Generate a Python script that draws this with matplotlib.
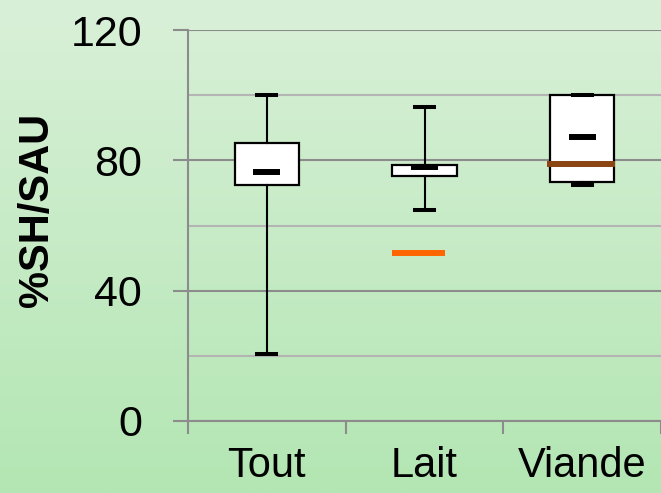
import numpy as np
import matplotlib
matplotlib.use("Agg")
import matplotlib.pyplot as plt
from matplotlib.colors import LinearSegmentedColormap

plt.rcParams['font.family'] = ['Liberation Sans', 'DejaVu Sans']

categories = ['Tout', 'Lait', 'Viande']
whis_lo = [20.6, 64.8, 72.4]
q1 = [72.4, 75.2, 73.4]
q3 = [85.3, 78.6, 100.0]
whis_hi = [100.0, 96.4, 100.0]
means = [76.4, 78.0, 87.2]
lait_orange = 51.6
viande_brown = 78.9

fig = plt.figure(figsize=(6.61, 4.93), dpi=100)

# gradient background
bg = fig.add_axes([0, 0, 1, 1], zorder=-10)
cmap = LinearSegmentedColormap.from_list('g', ['#d9f0d8', '#b3e6b3'])
bg.imshow(np.linspace(0, 1, 256).reshape(-1, 1), aspect='auto', cmap=cmap,
          extent=[0, 1, 0, 1])
bg.set_axis_off()

ax = fig.add_axes([188 / 661, 1 - 421 / 493, 1 - 188 / 661, (421 - 30) / 493])
ax.patch.set_alpha(0)

pos = np.arange(1, len(categories) + 1)
stats = []
for i in range(len(categories)):
    stats.append(dict(whislo=whis_lo[i], q1=q1[i], med=means[i], q3=q3[i],
                      whishi=whis_hi[i], fliers=[]))

ax.bxp(stats, positions=pos, widths=0.406, capwidths=0.12, showfliers=False,
       patch_artist=True,
       boxprops=dict(facecolor='white', edgecolor='black', linewidth=1.6),
       whiskerprops=dict(color='black', linewidth=1.5),
       capprops=dict(color='black', linewidth=2.9),
       medianprops=dict(linewidth=0), zorder=3)

# mean dashes
ax.hlines(means, pos - 0.085, pos + 0.085, colors='black', linewidth=4.3, zorder=5)
# extra markers
ax.hlines(lait_orange, pos[1] - 0.203, pos[1] + 0.133, colors='#ff6600',
          linewidth=4.3, zorder=5)
ax.hlines(viande_brown, pos[2] - 0.22, pos[2] + 0.21, colors='#8b4513',
          linewidth=4.3, zorder=5)

ax.set_xlim(0.5, 3.5)
ax.set_ylim(0, 120)
ax.set_yticks([0, 40, 80, 120])
ax.set_yticks([20, 60, 100], minor=True)
ax.grid(axis='y', which='major', color='#8c8c8c', linewidth=1.5, zorder=0)
ax.grid(axis='y', which='minor', color='#b4b4b4', linewidth=1.5, zorder=0)
ax.set_axisbelow(True)

ax.set_xticks([0.5, 1.5, 2.5, 3.5])
ax.set_xticklabels([])
ax.set_xticks(pos, minor=True)
ax.set_xticklabels(categories, minor=True, fontsize=30)
ax.tick_params(axis='x', which='major', length=9, width=1.5, color='#8c8c8c')
ax.tick_params(axis='x', which='minor', length=0, pad=18)
ax.tick_params(axis='y', which='major', length=11, width=1.5, color='#8c8c8c',
               labelsize=31, pad=22)
ax.tick_params(axis='y', which='minor', length=0)

for s in ['top', 'right']:
    ax.spines[s].set_visible(False)
for s in ['left', 'bottom']:
    ax.spines[s].set_color('#8c8c8c')
    ax.spines[s].set_linewidth(1.5)

fig.text(37 / 661, 1 - 210 / 493, '%SH/SAU', rotation=90, fontsize=30,
         fontweight='bold', ha='center', va='center')

fig.savefig('out.png', dpi=100)
